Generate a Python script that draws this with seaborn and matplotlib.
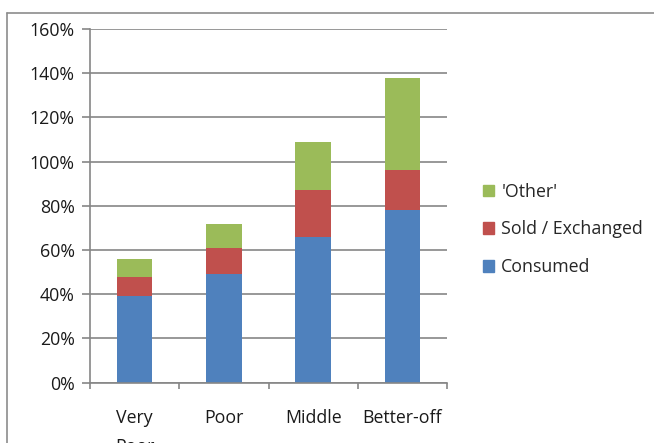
import matplotlib
matplotlib.use("Agg")
import matplotlib.pyplot as plt
from matplotlib.lines import Line2D
from matplotlib.patches import Patch
from matplotlib.ticker import FixedLocator, PercentFormatter
import numpy as np
import seaborn as sns

# Share of production by wealth group
categories = ["Very\nPoor", "Poor", "Middle", "Better-off"]
consumed = [39, 49, 66, 78]
sold_exchanged = [9, 12, 21, 18]
other = [8, 11, 22, 42]

series_names = ["Consumed", "Sold / Exchanged", "'Other'"]
series_colors = ["#4f81bd", "#c0504d", "#9bbb59"]

sns.set_theme(style="white")
plt.rcParams["font.family"] = ["Open Sans", "DejaVu Sans"]
FS = 12.8

fig = plt.figure(figsize=(6.54, 4.43), dpi=100)
ax = fig.add_axes([90 / 654, 60.3 / 443, (447 - 90) / 654, (382.7 - 29) / 443])

bottom = np.zeros(len(categories))
for name, vals, col in zip(series_names, [consumed, sold_exchanged, other], series_colors):
    vals = np.array(vals, dtype=float)
    sns.barplot(x=categories, y=vals, bottom=bottom, color=col, width=0.4,
                ax=ax, saturation=1, linewidth=0, label=name)
    bottom += vals

grid_col = "#868686"
ax.set_ylim(0, 160)
ax.set_xlim(-0.5, len(categories) - 0.5)
ax.yaxis.set_major_locator(FixedLocator(np.arange(0, 161, 20)))
ax.yaxis.set_major_formatter(PercentFormatter(decimals=0))
ax.yaxis.grid(True, color=grid_col, linewidth=1.2)
ax.set_axisbelow(True)
ax.set_xlabel("")
ax.set_ylabel("")

for s in ["top", "right"]:
    ax.spines[s].set_visible(False)
for s in ["left", "bottom"]:
    ax.spines[s].set_color(grid_col)
    ax.spines[s].set_linewidth(1.2)

ax.tick_params(axis="y", which="major", direction="out", length=6, width=1.2,
               color=grid_col, labelsize=FS, labelcolor="#1a1a1a", pad=5, left=True)
# category boundaries get tick marks, labels sit at the centres
ax.xaxis.set_minor_locator(FixedLocator(np.arange(-0.5, len(categories), 1.0)))
ax.tick_params(axis="x", which="minor", direction="out", length=4, width=1.2,
               color=grid_col, bottom=True)
ax.tick_params(axis="x", which="major", length=0, labelsize=FS,
               labelcolor="#1a1a1a", pad=19)
for lab in ax.get_xticklabels():
    lab.set_verticalalignment("top")
    lab.set_linespacing(1.8)

handles = [Patch(color=c) for c in series_colors][::-1]
labels = series_names[::-1]
if ax.get_legend() is not None:
    ax.get_legend().remove()
fig.legend(handles, labels, loc="center left", bbox_to_anchor=(476 / 654, 1 - 229.5 / 443),
           frameon=False, fontsize=FS, handlelength=0.62, handleheight=0.62,
           handletextpad=0.4, labelspacing=1.1, borderaxespad=0)

# outer chart frame (top and left edges)
fig.add_artist(Line2D([7 / 654, 1], [1 - 13 / 443, 1 - 13 / 443], color="#8c8c8c", lw=1.2,
                      transform=fig.transFigure))
fig.add_artist(Line2D([7 / 654, 7 / 654], [0, 1 - 13 / 443], color="#8c8c8c", lw=1.2,
                      transform=fig.transFigure))

fig.savefig("out.png", dpi=100)
